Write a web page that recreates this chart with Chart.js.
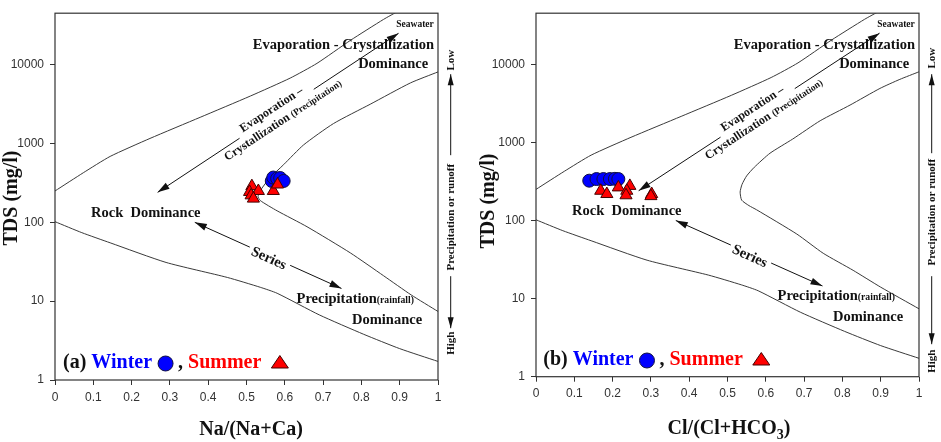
<!DOCTYPE html>
<html>
<head>
<meta charset="utf-8">
<title>Gibbs diagram</title>
<script src="https://cdn.jsdelivr.net/npm/chart.js@4.4.0/dist/chart.umd.min.js"></script>
<style>
  body { margin: 0; background: #fff; }
  .row { display: flex; }
  .box { position: relative; height: 442px; }
</style>
</head>
<body>
<div class="row">
  <div class="box" style="width:470px"><canvas id="chartA"></canvas></div>
  <div class="box" style="width:471px"><canvas id="chartB"></canvas></div>
</div>
<script>
// axis ticks
const xTicks = [0, 0.1, 0.2, 0.3, 0.4, 0.5, 0.6, 0.7, 0.8, 0.9, 1];
const xTickLabels = ['0', '0.1', '0.2', '0.3', '0.4', '0.5', '0.6', '0.7', '0.8', '0.9', '1'];
const yTicks = [1, 10, 100, 1000, 10000];
const yTickLabels = ['1', '10', '100', '1000', '10000'];

// Gibbs boundary lines, [ratio, TDS]
const upperBoundary = [[0, 250], [0.074, 426], [0.144, 686], [0.248, 1160], [0.379, 2150], [0.51, 4000],
  [0.614, 6760], [0.684, 10400], [0.771, 20300], [0.858, 37600], [0.897, 48000]];
const lowerBoundary = [[0, 102], [0.07, 74], [0.144, 55], [0.29, 31], [0.45, 20], [0.536, 15],
  [0.58, 12.6], [0.69, 6.7], [0.806, 3.8], [0.9, 2.5], [1, 1.72]];
const innerBoundaryA = [[1, 8100], [0.928, 5870], [0.823, 3150], [0.727, 1790], [0.649, 960], [0.597, 540],
  [0.562, 370], [0.54, 270], [0.53, 215], [0.536, 189], [0.58, 140], [0.658, 88], [0.771, 41],
  [0.858, 21], [0.93, 12], [1, 7.4]];
const innerBoundaryB = [[1, 8000], [0.95, 6400], [0.898, 4900], [0.82, 3000], [0.742, 1890], [0.67, 1100],
  [0.611, 726], [0.57, 480], [0.55, 372], [0.538, 290], [0.533, 231], [0.537, 182], [0.556, 155],
  [0.576, 137], [0.681, 67], [0.75, 38], [0.828, 23], [0.9, 14], [1, 7.4]];

// samples: (a) Na/(Na+Ca)
const winterNa = [0.566, 0.570, 0.580, 0.588, 0.597];
const winterTdsA = [335, 370, 360, 365, 335];
const summerNa = [0.514, 0.531, 0.508, 0.512, 0.518, 0.570, 0.581];
const summerTdsA = [288, 250, 243, 220, 200, 250, 302];
// samples: (b) Cl/(Cl+HCO3)
const winterCl = [0.139, 0.158, 0.176, 0.193, 0.206, 0.215];
const winterTdsB = [323, 339, 339, 339, 341, 339];
const summerCl = [0.169, 0.185, 0.215, 0.245, 0.237, 0.235, 0.302, 0.300];
const summerTdsB = [240, 218, 265, 277, 240, 210, 218, 205];

// annotation anchors in data units
const evapArrow = { from: [0.268, 240], to: [0.897, 25000], gap: [0.34, 0.648] };
const seriesArrow = { from: [0.365, 100], to: [0.748, 14.5], gap: [0.375, 0.65] };

const SERIF = '"Liberation Serif", "Times New Roman", serif';
const SANS = '"Liberation Sans", Arial, sans-serif';
const INK = '#111';

function pts(xs, ys) { return xs.map((x, i) => ({ x: x, y: ys[i] })); }
function pairs(list) { return list.map(p => ({ x: p[0], y: p[1] })); }

// parts: {t, s, c, dy}; drawn centred on (x, y)
function richText(ctx, parts, x, y, angle) {
  ctx.save();
  ctx.translate(x, y);
  ctx.rotate(angle || 0);
  ctx.textAlign = 'left';
  ctx.textBaseline = 'alphabetic';
  let total = 0;
  parts.forEach(p => { ctx.font = 'bold ' + p.s + 'px ' + SERIF; total += ctx.measureText(p.t).width; });
  let cx = -total / 2;
  const base = parts[0].s * 0.34;
  parts.forEach(p => {
    ctx.font = 'bold ' + p.s + 'px ' + SERIF;
    ctx.fillStyle = p.c || INK;
    ctx.fillText(p.t, cx, base + (p.dy || 0));
    cx += ctx.measureText(p.t).width;
  });
  ctx.restore();
}

function head(ctx, from, tip, len, w) {
  const ang = Math.atan2(tip[1] - from[1], tip[0] - from[0]);
  const c = Math.cos(ang), s = Math.sin(ang);
  ctx.beginPath();
  ctx.moveTo(tip[0], tip[1]);
  ctx.lineTo(tip[0] - len * c + w * s, tip[1] - len * s - w * c);
  ctx.lineTo(tip[0] - len * c - w * s, tip[1] - len * s + w * c);
  ctx.closePath();
  ctx.fill();
}

function arrow(ctx, p1, p2, gap) {
  const dx = p2[0] - p1[0], dy = p2[1] - p1[1];
  const at = t => [p1[0] + dx * t, p1[1] + dy * t];
  ctx.beginPath();
  if (gap) {
    const g1 = at(gap[0]), g2 = at(gap[1]);
    ctx.moveTo(p1[0], p1[1]); ctx.lineTo(g1[0], g1[1]);
    ctx.moveTo(g2[0], g2[1]); ctx.lineTo(p2[0], p2[1]);
  } else {
    ctx.moveTo(p1[0], p1[1]); ctx.lineTo(p2[0], p2[1]);
  }
  ctx.stroke();
  head(ctx, p1, p2, 12, 3.5);
  head(ctx, p2, p1, 12, 3.5);
}

function makeChart(id, cfg) {
  const notes = {
    id: 'notes',
    afterDatasetsDraw(chart) {
      const ctx = chart.ctx, a = chart.chartArea;
      const sx = chart.scales.x, sy = chart.scales.y;
      const P = p => [sx.getPixelForValue(p[0]), sy.getPixelForValue(p[1])];

      ctx.save();
      ctx.strokeStyle = '#333';
      ctx.lineWidth = 1.2;
      ctx.strokeRect(a.left, a.top, a.right - a.left, a.bottom - a.top);

      // arrows
      ctx.strokeStyle = INK;
      ctx.fillStyle = INK;
      ctx.lineWidth = 1;
      const e1 = P(evapArrow.from), e2 = P(evapArrow.to);
      arrow(ctx, e1, e2, evapArrow.gap);
      const s1 = P(seriesArrow.from), s2 = P(seriesArrow.to);
      arrow(ctx, s1, s2, seriesArrow.gap);
      const evapAng = Math.atan2(e2[1] - e1[1], e2[0] - e1[0]);
      const serAng = Math.atan2(s2[1] - s1[1], s2[0] - s1[0]);

      // labels
      let q;
      q = P([0.94, 33000]); richText(ctx, [{ t: 'Seawater', s: 9.5 }], q[0], q[1]);
      q = P([0.753, 18200]); richText(ctx, [{ t: 'Evaporation - Crystallization', s: 14.5 }], q[0], q[1]);
      q = P([0.883, 10400]); richText(ctx, [{ t: 'Dominance', s: 14.5 }], q[0], q[1]);
      q = P([0.564, 2740]); richText(ctx, [{ t: 'Evaporation \u2013', s: 12 }], q[0], q[1], evapAng);
      q = P([0.594, 2015]); richText(ctx, [{ t: 'Crystallization ', s: 12 }, { t: '(Precipitation)', s: 9.5 }], q[0], q[1], evapAng);
      q = P([0.237, 135]); richText(ctx, [{ t: 'Rock  Dominance', s: 14.5 }], q[0], q[1]);
      q = P([0.559, 35.7]); richText(ctx, [{ t: 'Series', s: 14.5 }], q[0], q[1], serAng);
      q = P([0.784, 11]); richText(ctx, [{ t: 'Precipitation', s: 14.5 }, { t: '(rainfall)', s: 9.7 }], q[0], q[1]);
      q = P([0.867, 6]); richText(ctx, [{ t: 'Dominance', s: 14.5 }], q[0], q[1]);

      // right-hand scale of precipitation / runoff
      const sd = cfg.side, vx = a.right + 12.7, t0 = a.top;
      richText(ctx, [{ t: 'Low', s: 11 }], vx, t0 + sd.low, -Math.PI / 2);
      richText(ctx, [{ t: 'Precipitation or runoff', s: 11 }], vx, t0 + sd.mid, -Math.PI / 2);
      richText(ctx, [{ t: 'High', s: 11 }], vx, t0 + sd.high, -Math.PI / 2);
      ctx.beginPath();
      ctx.moveTo(vx, t0 + sd.upBot); ctx.lineTo(vx, t0 + sd.upTop);
      ctx.moveTo(vx, t0 + sd.dnTop); ctx.lineTo(vx, t0 + sd.dnBot);
      ctx.stroke();
      head(ctx, [vx, t0 + sd.upBot], [vx, t0 + sd.upTop], 11, 3);
      head(ctx, [vx, t0 + sd.dnTop], [vx, t0 + sd.dnBot], 11, 3);

      // legend line
      let lx = a.left + cfg.legend[0];
      const ly = a.bottom - cfg.legend[1];
      ctx.font = 'bold 20px ' + SERIF;
      ctx.textAlign = 'left';
      ctx.textBaseline = 'alphabetic';
      ctx.fillStyle = INK; ctx.fillText(cfg.tag + ' ', lx, ly); lx += ctx.measureText(cfg.tag + ' ').width;
      ctx.fillStyle = '#0000ff'; ctx.fillText('Winter', lx, ly); lx += ctx.measureText('Winter').width;
      const cx = lx + 6 + 7.5;
      ctx.beginPath(); ctx.arc(cx, ly - 4.5, 7.5, 0, Math.PI * 2);
      ctx.fillStyle = '#0000ff'; ctx.fill(); ctx.strokeStyle = '#101040'; ctx.stroke();
      lx = cx + 7.5 + 5;
      ctx.fillStyle = INK; ctx.fillText(', ', lx, ly); lx += ctx.measureText(', ').width;
      ctx.fillStyle = '#ff0000'; ctx.fillText('Summer', lx, ly); lx += ctx.measureText('Summer').width;
      const tx = lx + 10 + 8.5;
      ctx.beginPath(); ctx.moveTo(tx, ly - 12.5); ctx.lineTo(tx + 8.5, ly); ctx.lineTo(tx - 8.5, ly); ctx.closePath();
      ctx.fillStyle = '#ff0000'; ctx.fill(); ctx.strokeStyle = '#400'; ctx.stroke();

      // axis titles
      richText(ctx, cfg.xTitle, (a.left + a.right) / 2 + cfg.xTitlePos[0], a.bottom + cfg.xTitlePos[1]);
      richText(ctx, [{ t: 'TDS (mg/l)', s: 20 }], cfg.yTitlePos[0], cfg.yTitlePos[1], -Math.PI / 2);
      ctx.restore();
    }
  };

  const lineStyle = { showLine: true, pointRadius: 0, borderColor: '#3a3a3a', borderWidth: 1, tension: 0.2, order: 2 };

  return new Chart(document.getElementById(id), {
    type: 'scatter',
    data: {
      datasets: [
        Object.assign({ label: 'upper', data: pairs(upperBoundary) }, lineStyle),
        Object.assign({ label: 'inner', data: pairs(cfg.inner) }, lineStyle),
        Object.assign({ label: 'lower', data: pairs(lowerBoundary) }, lineStyle),
        {
          label: 'Winter', data: cfg.winter, order: 1,
          pointStyle: 'circle', pointRadius: 6.5, pointHoverRadius: 6.5,
          backgroundColor: '#0000ff', borderColor: '#101040', borderWidth: 1
        },
        {
          label: 'Summer', data: cfg.summer, order: 0,
          pointStyle: 'triangle', pointRadius: 7, pointHoverRadius: 7,
          backgroundColor: '#ff0000', borderColor: '#400', borderWidth: 1
        }
      ]
    },
    options: {
      responsive: true,
      maintainAspectRatio: false,
      animation: false,
      events: [],
      layout: { padding: { top: cfg.top, right: cfg.right, bottom: 0, left: 0 } },
      plugins: { legend: { display: false }, tooltip: { enabled: false } },
      scales: {
        x: {
          type: 'linear', min: 0, max: 1,
          afterBuildTicks: s => { s.ticks = xTicks.map(v => ({ value: v })); },
          afterFit: s => { s.height = cfg.xHeight; },
          ticks: {
            callback: (v, i) => xTickLabels[i],
            font: { family: SANS, size: 12 }, color: '#333',
            padding: 5, maxRotation: 0, autoSkip: false
          },
          grid: { drawOnChartArea: false, tickLength: 5, color: '#333' },
          border: { display: false }
        },
        y: {
          type: 'logarithmic', min: 1, max: 45000,
          afterBuildTicks: s => { s.ticks = yTicks.map(v => ({ value: v })); },
          afterFit: s => { s.width = cfg.yWidth; },
          ticks: {
            callback: v => yTickLabels[yTicks.indexOf(v)],
            font: { family: SANS, size: 12 }, color: '#333', padding: 6
          },
          grid: { drawOnChartArea: false, tickLength: 5, color: '#333' },
          border: { display: false }
        }
      }
    },
    plugins: [notes]
  });
}

makeChart('chartA', {
  tag: '(a)',
  inner: innerBoundaryA,
  winter: pts(winterNa, winterTdsA),
  summer: pts(summerNa, summerTdsA),
  top: 5, right: 32, yWidth: 55, xHeight: 62,
  legend: [8, 12],
  side: { low: 47, upTop: 61, upBot: 142, mid: 204, dnTop: 263, dnBot: 315, high: 330 },
  xTitle: [{ t: 'Na/(Na+Ca)', s: 20 }],
  xTitlePos: [4.5, 48],
  yTitlePos: [10, 198]
});

makeChart('chartB', {
  tag: '(b)',
  inner: innerBoundaryB,
  winter: pts(winterCl, winterTdsB),
  summer: pts(summerCl, summerTdsB),
  top: 2.3, right: 22, yWidth: 66, xHeight: 65.3,
  legend: [7.3, 11.7],
  side: { low: 45, upTop: 61, upBot: 140, mid: 199, dnTop: 263, dnBot: 331, high: 348 },
  xTitle: [{ t: 'Cl/(Cl+HCO', s: 20 }, { t: '3', s: 14, dy: 5 }, { t: ')', s: 20 }],
  xTitlePos: [1.5, 50],
  yTitlePos: [17, 201]
});
</script>
</body>
</html>
